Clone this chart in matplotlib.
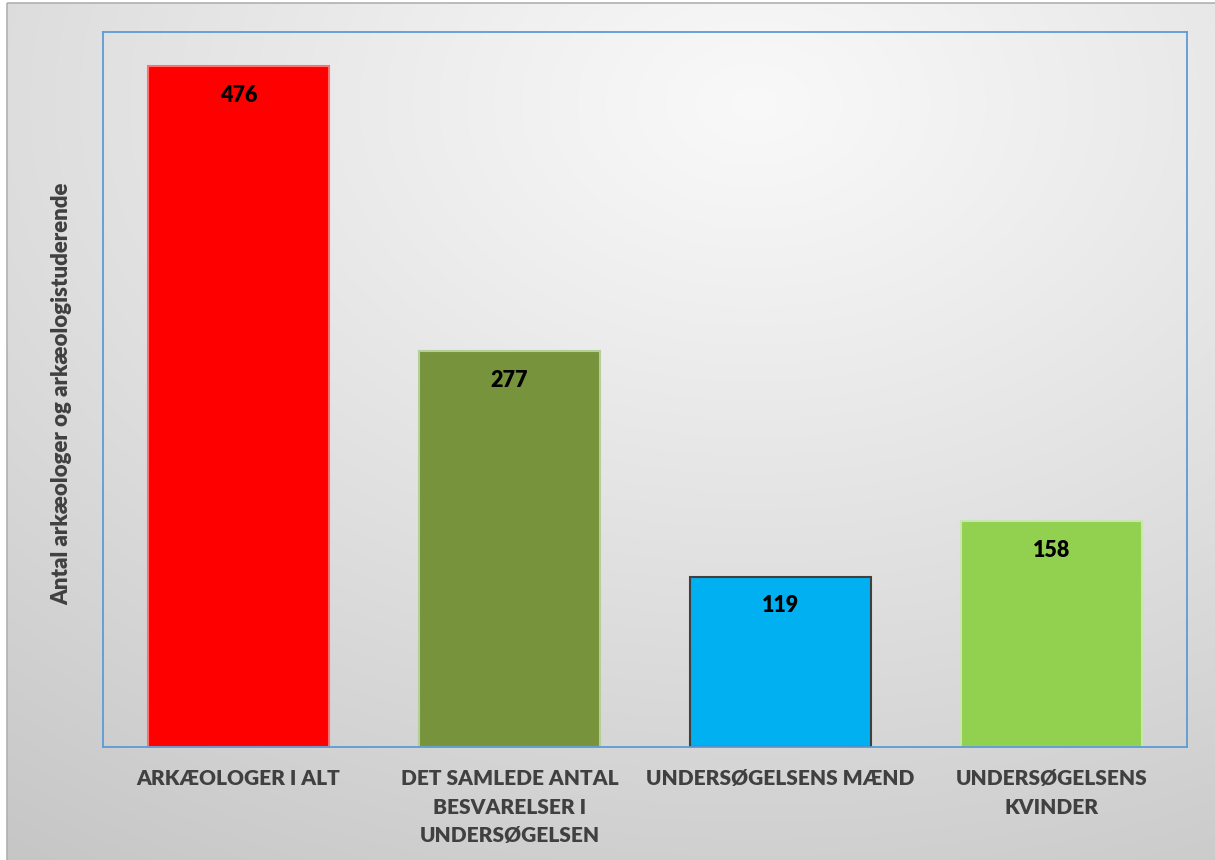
import matplotlib.pyplot as plt
import numpy as np
from matplotlib.patches import Rectangle

categories = ["ARKÆOLOGER I ALT",
              "DET SAMLEDE ANTAL\nBESVARELSER I\nUNDERSØGELSEN",
              "UNDERSØGELSENS MÆND",
              "UNDERSØGELSENS\nKVINDER"]
values = [476, 277, 119, 158]
bar_colors = ["#ff0000", "#77933c", "#00b0f0", "#92d050"]
edge_colors = ["#ff7070", "#b5cf9a", "#404040", "#c8e6b0"]
ylabel = "Antal arkæologer og arkæologistuderende"

plt.rcParams['font.family'] = ['Lato', 'DejaVu Sans']

W, H = 1215, 860
fig = plt.figure(figsize=(W / 100, H / 100), dpi=100)

# background radial gradient
bg = fig.add_axes([0, 0, 1, 1], zorder=0)
yy, xx = np.mgrid[0:H, 0:W]
d = np.sqrt(((xx - 0.62 * W) / W) ** 2 + ((yy - 0.12 * H) / H) ** 2)
d = d / d.max()
shade = 0.975 - 0.2 * d ** 1.1
img = np.dstack([shade, shade, shade])
bg.imshow(img, extent=[0, W, H, 0], aspect='auto')
bg.set_xlim(0, W)
bg.set_ylim(H, 0)
bg.axis('off')
# white margin and outer frame
bg.add_patch(Rectangle((0, 0), 7, H, color='white', lw=0))
bg.add_patch(Rectangle((0, 0), W, 3, color='white', lw=0))
bg.add_patch(Rectangle((7, 3), W, H, fill=False, ec='#b0b0b0', lw=1.2))

ax = fig.add_axes([103 / W, (H - 747) / H, 1084 / W, 715 / H], zorder=1)
ax.patch.set_alpha(0)
x = np.arange(len(values))
bars = ax.bar(x, values, width=0.67, color=bar_colors, edgecolor=edge_colors, linewidth=1.5)
ax.set_xlim(-0.5, len(values) - 0.5)
ax.set_ylim(0, 500)

for b, v in zip(bars, values):
    ax.annotate(str(v), (b.get_x() + b.get_width() / 2, v), xytext=(0, -21),
                textcoords='offset points', ha='center', va='center',
                fontsize=15.5, fontweight='heavy', color='black')

ax.set_yticks([])
ax.set_xticks(x)
ax.set_xticklabels(categories, fontsize=15, fontweight='heavy', color='#404040',
                   linespacing=1.6, va='top')
ax.tick_params(axis='x', length=0, pad=16)
for s in ax.spines.values():
    s.set_color('#5b9bd5')
    s.set_linewidth(1.3)

fig.text(62 / W, 1 - 394 / H, ylabel, rotation=90, ha='center', va='center',
         fontsize=16, fontweight='heavy', color='#404040')

fig.savefig("out.png", dpi=100)
